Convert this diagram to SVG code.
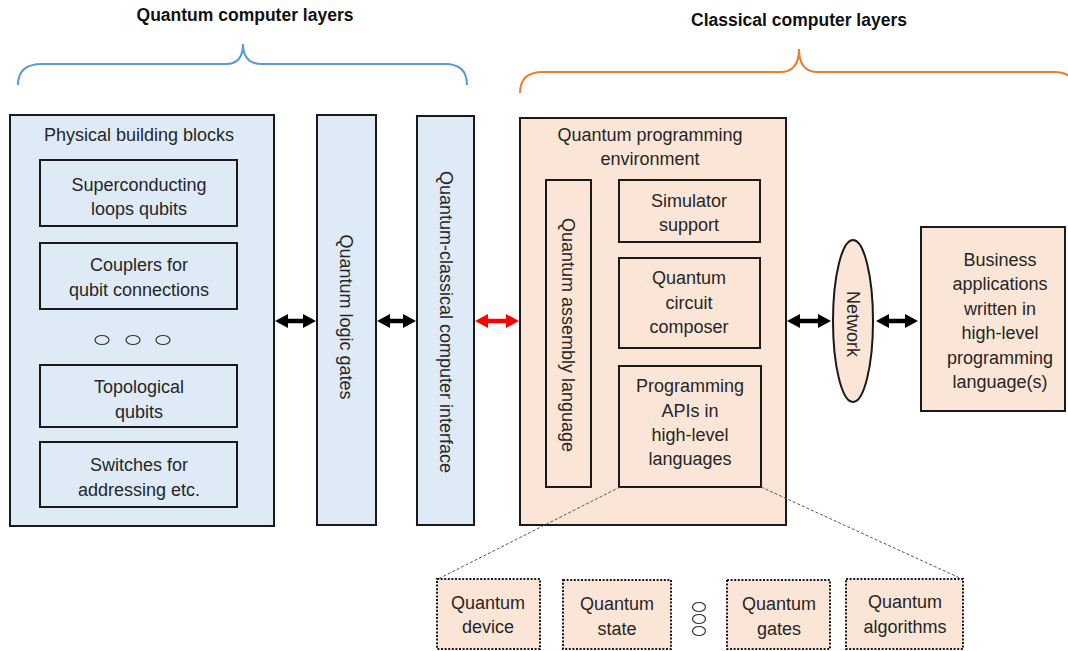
<svg xmlns="http://www.w3.org/2000/svg" width="1068" height="651" viewBox="0 0 1068 651">
<defs>
<style>
.t{font-family:"Liberation Sans",Arial,sans-serif;font-size:18px;fill:#262626;text-anchor:middle}
.title{font-family:"Liberation Sans",Arial,sans-serif;font-size:17.5px;font-weight:bold;fill:#111;text-anchor:middle}
.blue{fill:#DEEBF7;stroke:#1a1a1a;stroke-width:2}
.org{fill:#FBE5D6;stroke:#1a1a1a;stroke-width:2}
.dot{fill:#FBE5D6;stroke:#1a1a1a;stroke-width:2;stroke-dasharray:2 1.6}
.el{fill:none;stroke:#333;stroke-width:1.2}
.arr{stroke:#000;stroke-width:4.5;marker-start:url(#hb);marker-end:url(#hb)}
.arrr{stroke:#f00;stroke-width:4.5;marker-start:url(#hr);marker-end:url(#hr)}
.dash{stroke:#555;stroke-width:1;stroke-dasharray:3 2;fill:none}
</style>
<marker id="hb" viewBox="0 0 13 14" markerUnits="userSpaceOnUse" markerWidth="13" markerHeight="14" refX="3" refY="7" orient="auto-start-reverse"><path d="M0,0 L13,7 L0,14 z" fill="#000"/></marker>
<marker id="hr" viewBox="0 0 13 14" markerUnits="userSpaceOnUse" markerWidth="13" markerHeight="14" refX="3" refY="7" orient="auto-start-reverse"><path d="M0,0 L13,7 L0,14 z" fill="#f00"/></marker>
</defs>
<rect width="1068" height="651" fill="#fff"/>

<g id="bracket-quantum">
<text class="title" x="245" y="21">Quantum computer layers</text>
<path d="M18,85 Q18,64 42,64 L226,64 Q243,64 243,44 Q243,64 262,64 L445,64 Q467,64 467,85" fill="none" stroke="#5B9BD5" stroke-width="2"/>
</g>
<g id="bracket-classical">
<text class="title" x="799" y="26">Classical computer layers</text>
<path d="M520,93 Q520,72 543,72 L780,72 Q799,72 799,49 Q799,72 818,72 L1054,72 Q1076,72 1076,93" fill="none" stroke="#ED7D31" stroke-width="2"/>
</g>

<g id="physical">
<rect class="blue" x="10" y="115" width="264" height="411"/>
<text class="t" x="139" y="141">Physical building blocks</text>
</g>
<g id="superconducting">
<rect class="blue" x="40" y="160" width="197" height="66"/>
<text class="t" x="139" y="191">Superconducting</text>
<text class="t" x="139" y="215">loops qubits</text>
</g>
<g id="couplers">
<rect class="blue" x="40" y="243" width="197" height="66"/>
<text class="t" x="139" y="271">Couplers for</text>
<text class="t" x="139" y="296">qubit connections</text>
</g>
<g id="dots-left">
<ellipse class="el" cx="102" cy="340" rx="7" ry="4.5"/>
<ellipse class="el" cx="133" cy="340" rx="7" ry="4.5"/>
<ellipse class="el" cx="163" cy="340" rx="7" ry="4.5"/>
</g>
<g id="topological">
<rect class="blue" x="40" y="365" width="197" height="62"/>
<text class="t" x="139" y="393">Topological</text>
<text class="t" x="139" y="418">qubits</text>
</g>
<g id="switches">
<rect class="blue" x="40" y="442" width="197" height="65"/>
<text class="t" x="139" y="471">Switches for</text>
<text class="t" x="139" y="496">addressing etc.</text>
</g>

<g id="logic-gates">
<rect class="blue" x="317" y="115" width="59" height="410"/>
<text class="t" transform="translate(346,317) rotate(90)" x="0" y="6">Quantum logic gates</text>
</g>
<g id="interface">
<rect class="blue" x="417" y="116" width="57" height="409"/>
<text class="t" transform="translate(446,322) rotate(90)" x="0" y="6">Quantum-classical computer interface</text>
</g>

<g id="qpe">
<rect class="org" x="520" y="118" width="266" height="407"/>
<text class="t" x="650" y="141">Quantum programming</text>
<text class="t" x="650" y="165">environment</text>
</g>
<g id="assembly">
<rect class="org" x="546" y="180" width="45" height="307"/>
<text class="t" transform="translate(568,335) rotate(90)" x="0" y="6">Quantum assembly language</text>
</g>
<g id="simulator">
<rect class="org" x="619" y="180" width="141" height="62"/>
<text class="t" x="689" y="207">Simulator</text>
<text class="t" x="689" y="231">support</text>
</g>
<g id="composer">
<rect class="org" x="619" y="258" width="141" height="90"/>
<text class="t" x="689" y="284">Quantum</text>
<text class="t" x="689" y="309">circuit</text>
<text class="t" x="689" y="333">composer</text>
</g>
<g id="apis">
<rect class="org" x="619" y="366" width="142" height="121"/>
<text class="t" x="690" y="392">Programming</text>
<text class="t" x="690" y="417">APIs in</text>
<text class="t" x="690" y="441">high-level</text>
<text class="t" x="690" y="465">languages</text>
</g>

<g id="network">
<ellipse class="org" cx="853" cy="321" rx="20" ry="81"/>
<text class="t" transform="translate(853,324) rotate(90)" x="0" y="6">Network</text>
</g>
<g id="business">
<rect class="org" x="921" y="227" width="144" height="184"/>
<text class="t" x="1000" y="266">Business</text>
<text class="t" x="1000" y="290">applications</text>
<text class="t" x="1000" y="315">written in</text>
<text class="t" x="1000" y="339">high-level</text>
<text class="t" x="1000" y="364">programming</text>
<text class="t" x="1000" y="388">language(s)</text>
</g>

<g id="q-device">
<rect class="dot" x="437" y="579" width="103" height="70"/>
<text class="t" x="488" y="609">Quantum</text>
<text class="t" x="488" y="633">device</text>
</g>
<g id="q-state">
<rect class="dot" x="563" y="580" width="108" height="69"/>
<text class="t" x="617" y="610">Quantum</text>
<text class="t" x="617" y="635">state</text>
</g>
<g id="dots-bottom">
<ellipse class="el" cx="699" cy="607" rx="6.5" ry="4.5"/>
<ellipse class="el" cx="699" cy="619" rx="6.5" ry="4.5"/>
<ellipse class="el" cx="699" cy="631" rx="6.5" ry="4.5"/>
</g>
<g id="q-gates">
<rect class="dot" x="727" y="580" width="103" height="69"/>
<text class="t" x="779" y="610">Quantum</text>
<text class="t" x="779" y="635">gates</text>
</g>
<g id="q-algorithms">
<rect class="dot" x="846" y="579" width="117" height="70"/>
<text class="t" x="905" y="608">Quantum</text>
<text class="t" x="905" y="633">algorithms</text>
</g>

<g id="connectors">
<line class="arr" x1="285" y1="321" x2="306" y2="321"/>
<line class="arr" x1="387" y1="321" x2="406" y2="321"/>
<line class="arrr" x1="485" y1="321" x2="509" y2="321"/>
<line class="arr" x1="797" y1="321" x2="821" y2="321"/>
<line class="arr" x1="886" y1="321" x2="908" y2="321"/>
<line class="dash" x1="620" y1="487" x2="438" y2="579"/>
<line class="dash" x1="761" y1="487" x2="962" y2="579"/>
</g>
</svg>
